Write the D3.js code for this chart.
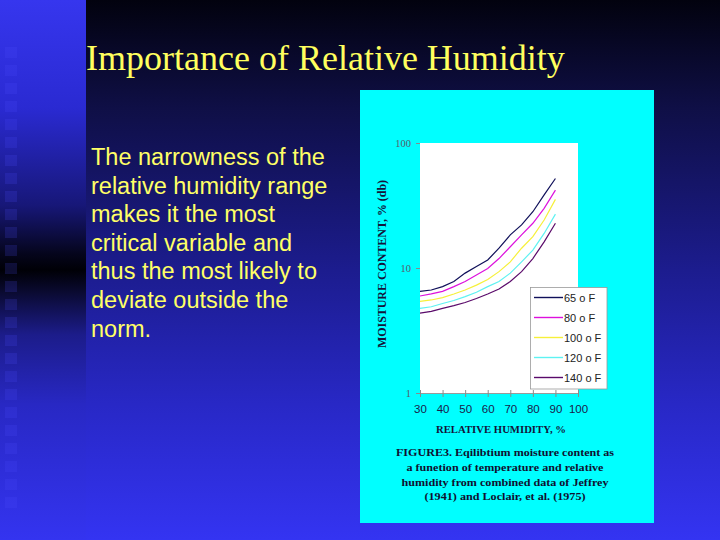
<!DOCTYPE html>
<html><head><meta charset="utf-8">
<script src="https://cdn.jsdelivr.net/npm/d3@7"></script>
<style>html,body{margin:0;padding:0;background:#000;}svg{display:block;}</style>
</head><body>
<script>
// ---- data ----
const humidity = [30,35,40,45,50,55,60,65,70,75,80,85,90];
const temps = ["65 o F","80 o F","100 o F","120 o F","140 o F"];
const mc65  = [6.5,6.67,7.1,7.8,9.1,10.3,11.6,14.4,18.4,22.1,28.2,38.4,52];
const mc80  = [5.97,6.2,6.5,7.1,7.8,8.8,9.9,11.9,14.8,18.4,22.8,30,42];
const mc100 = [5.4,5.55,5.8,6.2,6.67,7.3,8.1,9.35,11.2,14.4,17.8,24.2,35.4];
const mc120 = [4.75,4.9,5.2,5.5,5.9,6.4,7.1,7.8,9.1,11.2,13.9,18.9,27];
const mc140 = [4.35,4.5,4.75,5.0,5.3,5.7,6.2,6.8,7.8,9.35,11.9,16.2,22.8];
const xTicks = [30,40,50,60,70,80,90,100];
const yTicks = [1,10,100];
const title = "Importance of Relative Humidity";
const bodyLines = ["The narrowness of the","relative humidity range","makes it the most","critical variable and","thus the most likely to","deviate outside the","norm."];
const captionLines = ["FIGURE3.  Eqilibtium moisture content as","a funetion of temperature and relative","humidity from combined data of Jeffrey","(1941) and Loclair, et al. (1975)"];
const captionWidths = [218,197,207,161];
const seriesVals = [mc65, mc80, mc100, mc120, mc140];
const colors = ["#10105a","#dd11dd","#f6f03a","#5ef2f2","#5a0a6a"];

const W = 720, H = 540;
const svg = d3.select("body").append("svg").attr("width", W).attr("height", H);
const defs = svg.append("defs");

// backgrounds
const g1 = defs.append("linearGradient").attr("id","mainBg").attr("x1",0).attr("y1",0).attr("x2",0).attr("y2",1);
[[0,"#02020e"],[0.2,"#0f0f46"],[0.5,"#1c1c8e"],[0.75,"#2828c6"],[1,"#3434f2"]].forEach(s=>g1.append("stop").attr("offset",s[0]).attr("stop-color",s[1]));
const g2 = defs.append("linearGradient").attr("id","stripBg").attr("x1",0).attr("y1",0).attr("x2",0).attr("y2",1);
[[0,"#3636ee"],[0.2,"#2a2ad2"],[0.38,"#171778"],[0.47,"#05051c"],[0.5,"#000006"],[0.54,"#0a0a30"],[0.62,"#1c1c8a"],[0.75,"#2828c4"],[1,"#3434f0"]].forEach(s=>g2.append("stop").attr("offset",s[0]).attr("stop-color",s[1]));

svg.append("rect").attr("x",0).attr("y",0).attr("width",W).attr("height",H).attr("fill","url(#mainBg)");
svg.append("rect").attr("x",0).attr("y",0).attr("width",86).attr("height",H).attr("fill","url(#stripBg)");
// square column
const sq = d3.range(26);
svg.append("g").selectAll("rect").data(sq).join("rect")
  .attr("x",5).attr("y",d=>47+d*18).attr("width",12).attr("height",11)
  .attr("fill","#5050ff").attr("opacity",0.18);

// title
svg.append("text").attr("x",86).attr("y",70).text(title)
  .attr("font-family","'Liberation Serif','Times New Roman',serif").attr("font-size",36)
  .attr("fill","#ffff5e");

// body text
svg.append("g").selectAll("text").data(bodyLines).join("text")
  .attr("x",91).attr("y",(d,i)=>165+i*28.6).text(d=>d)
  .attr("font-family","'Liberation Sans',Arial,sans-serif").attr("font-size",23.5)
  .attr("fill","#ffff66");

// figure panel
svg.append("rect").attr("x",360).attr("y",90).attr("width",294).attr("height",433).attr("fill","#00ffff");

const x = d3.scaleLinear().domain([30,100]).range([420,578]);
const y = d3.scaleLog().domain([1,100]).range([393,143]);

svg.append("rect").attr("x",x(30)).attr("y",y(100)).attr("width",x(100)-x(30)).attr("height",y(1)-y(100)).attr("fill","#ffffff");

// axes
const xAx = svg.append("g").attr("transform",`translate(0,${y(1)})`)
  .call(d3.axisBottom(x).tickValues(xTicks).tickSize(4).tickPadding(8).tickSizeOuter(0));
xAx.select(".domain").attr("stroke","#9a9a9a");
xAx.selectAll(".tick line").attr("stroke","#8a8a8a").attr("y1",-3);
xAx.selectAll(".tick text").attr("font-family","'Liberation Sans',Arial,sans-serif").attr("font-size",11.5).attr("fill","#1a1a4a");

const yAx = svg.append("g").attr("transform",`translate(${x(30)},0)`)
  .call(d3.axisLeft(y).tickValues(yTicks).tickFormat(d3.format("d")).tickSize(4).tickPadding(5).tickSizeOuter(0));
yAx.select(".domain").remove();
yAx.selectAll(".tick line").attr("stroke","#8a8a8a");
yAx.selectAll(".tick text").attr("font-family","'Liberation Serif','Times New Roman',serif").attr("font-size",10.5).attr("fill","#5a5a6a");

// lines
const line = d3.line().x((d,i)=>x(humidity[i])).y(d=>y(d));
svg.append("g").selectAll("path").data(seriesVals).join("path")
  .attr("d",d=>line(d)).attr("fill","none").attr("stroke",(d,i)=>colors[i]).attr("stroke-width",1.2);

// legend
const lg = svg.append("g");
lg.append("rect").attr("x",530.5).attr("y",287.5).attr("width",76.5).attr("height",101.5).attr("fill","#fff").attr("stroke","#9a9a9a").attr("stroke-width",0.8);
const li = lg.selectAll("g.item").data(temps).join("g").attr("class","item")
  .attr("transform",(d,i)=>`translate(0,${297.5+i*20})`);
li.append("line").attr("x1",534).attr("x2",563).attr("y1",0).attr("y2",0).attr("stroke",(d,i)=>colors[i]).attr("stroke-width",1.4);
li.append("text").attr("x",564).attr("y",4).text(d=>d).attr("font-family","'Liberation Sans',Arial,sans-serif").attr("font-size",11).attr("fill","#222");

// axis titles
svg.append("text").attr("transform","translate(386,264) rotate(-90)").attr("text-anchor","middle")
  .text("MOISTURE CONTENT, % (db)").attr("font-family","'Liberation Serif','Times New Roman',serif")
  .attr("font-weight","bold").attr("font-size",12).attr("fill","#14143a")
  .attr("textLength",168).attr("lengthAdjust","spacingAndGlyphs");
svg.append("text").attr("x",501).attr("y",433).attr("text-anchor","middle")
  .text("RELATIVE HUMIDITY, %").attr("font-family","'Liberation Serif','Times New Roman',serif")
  .attr("font-weight","bold").attr("font-size",11).attr("fill","#14143a")
  .attr("textLength",130).attr("lengthAdjust","spacingAndGlyphs");

// caption
svg.append("g").selectAll("text").data(captionLines).join("text")
  .attr("x",505).attr("y",(d,i)=>456+i*14.8).attr("text-anchor","middle").text(d=>d)
  .attr("font-family","'Liberation Serif','Times New Roman',serif").attr("font-weight","bold")
  .attr("font-size",11).attr("fill","#101030")
  .attr("textLength",(d,i)=>captionWidths[i]).attr("lengthAdjust","spacingAndGlyphs");
</script>
</body></html>
